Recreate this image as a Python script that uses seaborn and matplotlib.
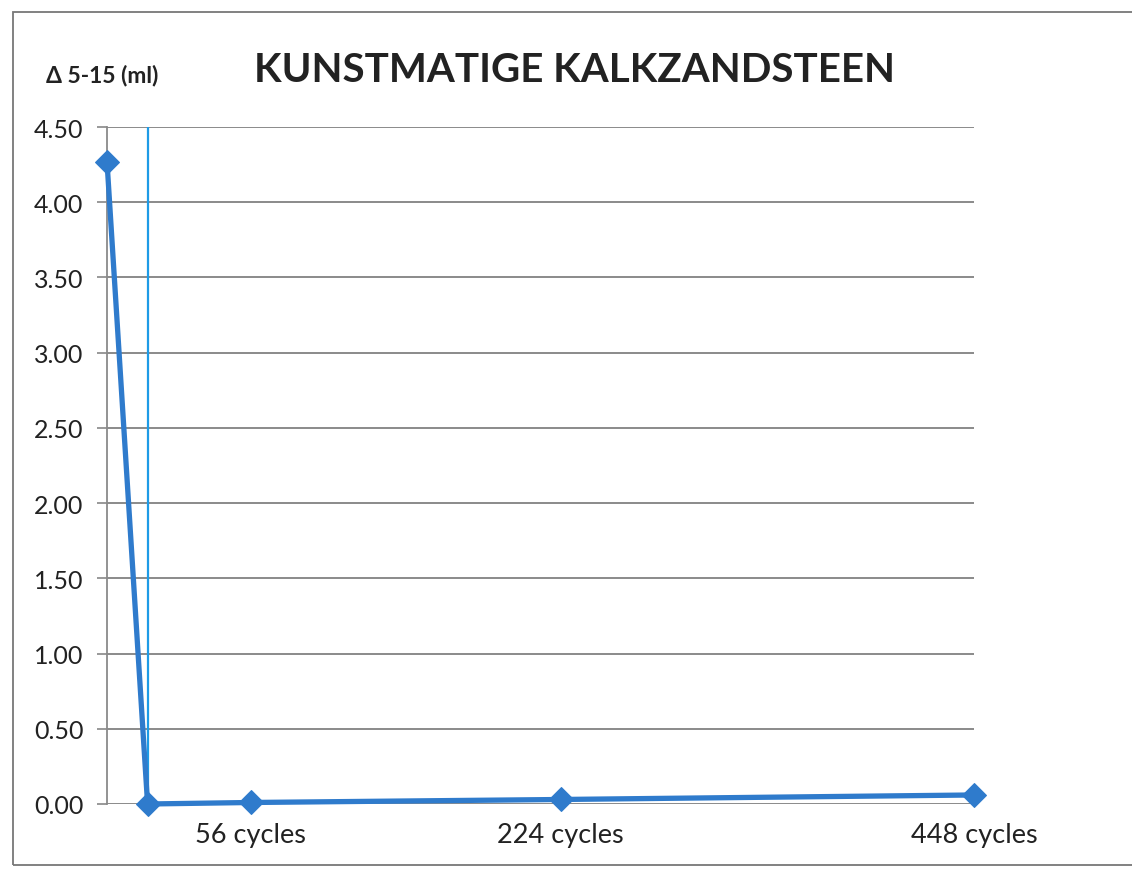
import matplotlib
matplotlib.use("Agg")
import matplotlib.pyplot as plt
import seaborn as sns
import pandas as pd
from matplotlib.patches import Rectangle

# data
cycles = [-22, 0, 56, 224, 448]
delta_ml = [4.27, 0.00, 0.01, 0.03, 0.06]
x_tick_values = [56, 224, 448]
x_tick_labels = ["56 cycles", "224 cycles", "448 cycles"]
y_ticks = [0.0, 0.5, 1.0, 1.5, 2.0, 2.5, 3.0, 3.5, 4.0, 4.5]
title = "KUNSTMATIGE KALKZANDSTEEN"
ylabel = "Δ 5-15 (ml)"

sns.set_style("white")
plt.rcParams['font.family'] = ['Lato', 'DejaVu Sans']

fig = plt.figure(figsize=(11.32, 8.70), dpi=100)
ax = fig.add_axes([107/1132, 1-805/870, (974-107)/1132, (805-128)/870])

df = pd.DataFrame({"cycles": cycles, "delta": delta_ml})
line_color = "#2f7bcc"
sns.lineplot(data=df, x="cycles", y="delta", ax=ax, color=line_color, lw=3.8,
             marker="D", markersize=12, markeredgecolor=line_color, sort=False, zorder=5)
for ln in ax.lines:
    ln.set_clip_on(False)
ax.axvline(0, color="#1e9be6", lw=1.6, zorder=3)

ax.set_xlim(cycles[0], x_tick_values[-1])
ax.set_ylim(0, 4.5)
ax.set_yticks(y_ticks)
ax.set_yticklabels([f"{v:.2f}" for v in y_ticks], fontsize=18, color="#222222")
ax.set_xticks(x_tick_values)
ax.set_xticklabels(x_tick_labels, fontsize=19.5, color="#222222")
ax.tick_params(axis="x", length=0, pad=13)
ax.tick_params(axis="y", length=7, width=1.2, color="#888888", direction="out", left=True, pad=10)
ax.yaxis.grid(True, color="#8a8a8a", lw=1.4)
ax.xaxis.grid(False)
for s in ["top", "right", "bottom"]:
    ax.spines[s].set_visible(False)
ax.spines["left"].set_color("#8a8a8a")
ax.spines["left"].set_linewidth(1.3)
ax.set_xlabel("")
ax.set_ylabel("")

fig.text(102/1132, 1-75/870, ylabel, fontsize=16.5, fontweight="bold", ha="center", va="center", color="#222222")
fig.text(574/1132, 1-70/870, title, fontsize=29, fontweight="bold", ha="center", va="center", color="#222222")

fig.add_artist(Rectangle((13/1132, 1-866/870), 1.2, (866-13)/870, transform=fig.transFigure,
                         fill=False, edgecolor="#777777", lw=1.3))

fig.savefig("out.png", dpi=100)
